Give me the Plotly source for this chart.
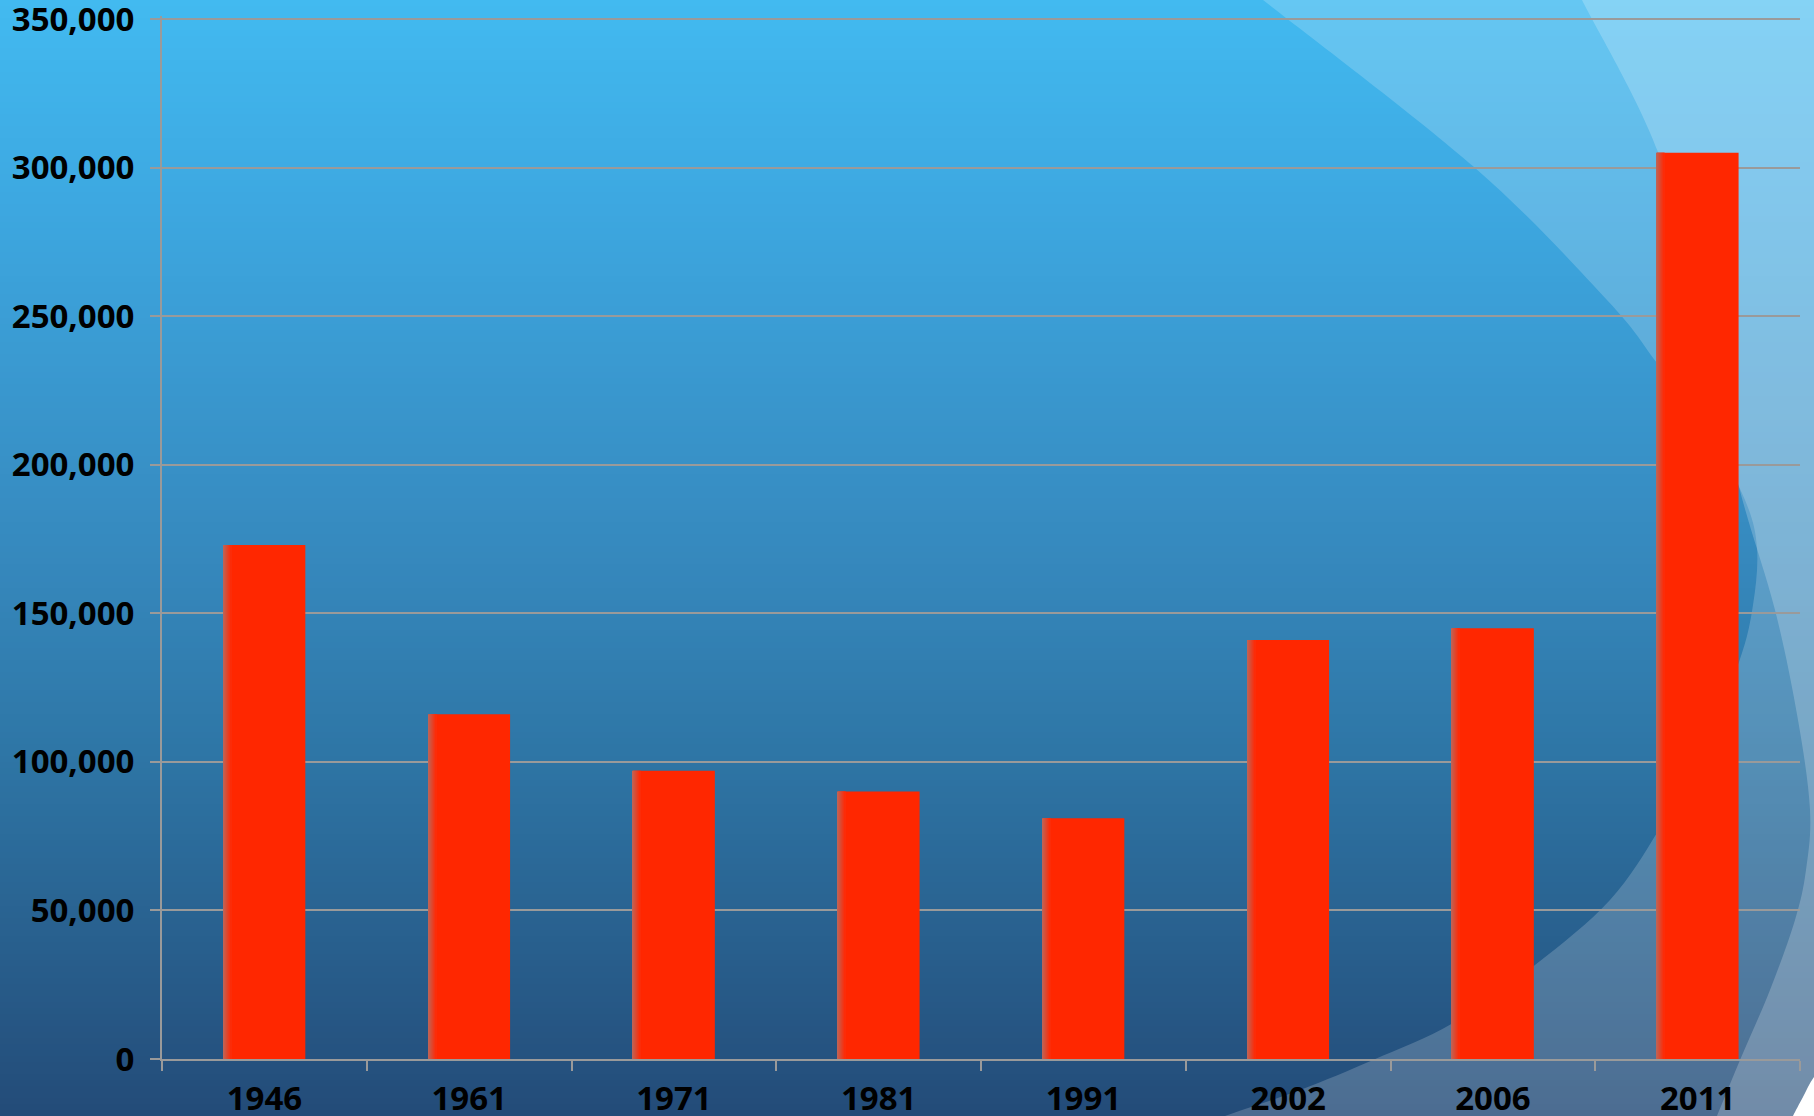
import plotly.graph_objects as go

# Survey years and counts
years = ["1946", "1961", "1971", "1981", "1991", "2002", "2006", "2011"]
counts = [173000, 116000, 97000, 90000, 81000, 141000, 145000, 305000]

# Y axis ticks and range
y_ticks = [0, 50000, 100000, 150000, 200000, 250000, 300000, 350000]
y_max = 351000

FIG_W, FIG_H = 1814, 1116
M_L, M_R, M_T, M_B = 162, 14, 16, 57
PLOT_W = FIG_W - M_L - M_R
PLOT_H = FIG_H - M_T - M_B
BAR_W = 0.4
BAR_RED = "#FF2700"


def pxx(X):
    return (X - M_L) / PLOT_W


def pxy(Y):
    return (FIG_H - M_B - Y) / PLOT_H


def lerp(c1, c2, t):
    return tuple(round(a + (b - a) * t) for a, b in zip(c1, c2))


# Slide backdrop: vertical blue gradient built from thin bands
grad_stops = [
    (0, (66, 186, 240)),
    (200, (61, 168, 225)),
    (550, (54, 137, 190)),
    (750, (46, 118, 166)),
    (1059, (37, 82, 127)),
    (1116, (35, 75, 120)),
]


def grad_color(Y):
    for (y0, c0), (y1, c1) in zip(grad_stops, grad_stops[1:]):
        if y0 <= Y <= y1:
            return lerp(c0, c1, (Y - y0) / (y1 - y0))
    return grad_stops[-1][1]


shapes = []
band = 6
for Y in range(0, FIG_H, band):
    c = grad_color(Y + band / 2)
    shapes.append(dict(
        type="rect", xref="paper", yref="paper", layer="below",
        x0=pxx(-5), x1=pxx(FIG_W + 5), y0=pxy(Y + band + 1), y1=pxy(Y),
        line=dict(width=0), fillcolor=f"rgb{c}",
    ))


def smooth_path(points, closing):
    """Catmull-Rom curve through points (pixel coords) turned into an SVG path in paper units."""
    P = [(pxx(x), pxy(y)) for x, y in points]
    d = f"M{P[0][0]:.5f},{P[0][1]:.5f}"
    for i in range(len(P) - 1):
        p0 = P[i - 1] if i > 0 else P[i]
        p1, p2 = P[i], P[i + 1]
        p3 = P[i + 2] if i + 2 < len(P) else P[i + 1]
        c1 = (p1[0] + (p2[0] - p0[0]) / 6, p1[1] + (p2[1] - p0[1]) / 6)
        c2 = (p2[0] - (p3[0] - p1[0]) / 6, p2[1] - (p3[1] - p1[1]) / 6)
        d += f" C{c1[0]:.5f},{c1[1]:.5f} {c2[0]:.5f},{c2[1]:.5f} {p2[0]:.5f},{p2[1]:.5f}"
    for x, y in closing:
        d += f" L{pxx(x):.5f},{pxy(y):.5f}"
    return d + " Z"


# Large sweeping arcs on the right of the slide
arc_a = [(1250, -10), (1263, 0), (1474, 167), (1607, 300), (1657, 363), (1710, 435),
         (1745, 500), (1757, 548), (1753, 605), (1739, 662), (1700, 755), (1660, 828),
         (1610, 900), (1535, 965), (1453, 1023), (1373, 1060), (1300, 1090), (1225, 1116),
         (1200, 1126)]
arc_b = [(1578, -10), (1582, 0), (1658, 152), (1700, 320), (1739, 487), (1775, 610),
         (1798, 720), (1810, 810), (1806, 870), (1795, 920), (1770, 990), (1740, 1060),
         (1717, 1116), (1712, 1126)]
corner = [(1830, 1062), (1814, 1077), (1803, 1097), (1793, 1116), (1789, 1126)]

shapes.append(dict(type="path", xref="paper", yref="paper", layer="below",
                   path=smooth_path(arc_a, [(1830, 1130), (1830, -10)]),
                   fillcolor="rgba(255,255,255,0.19)", line=dict(width=0)))
shapes.append(dict(type="path", xref="paper", yref="paper", layer="below",
                   path=smooth_path(arc_b, [(1830, 1130), (1830, -10)]),
                   fillcolor="rgba(255,255,255,0.21)", line=dict(width=0)))
shapes.append(dict(type="path", xref="paper", yref="paper", layer="below",
                   path=smooth_path(corner, [(1830, 1130)]),
                   fillcolor="white", line=dict(width=0)))

fig = go.Figure()

# Main bars
fig.add_trace(go.Bar(
    x=years, y=counts, width=BAR_W, marker=dict(color=BAR_RED, line=dict(width=0)),
    showlegend=False, hoverinfo="x+y",
))

# Soft shaded left edge on each bar
edge_from, edge_to = (192, 98, 84), (252, 44, 8)
strips = 8
strip_w = 1 / (PLOT_W / len(years))
for k in range(strips):
    c = lerp(edge_from, edge_to, k / (strips - 1))
    fig.add_trace(go.Bar(
        x=years, y=counts, width=strip_w * 1.1, offset=-BAR_W / 2 + k * strip_w,
        marker=dict(color=f"rgb{c}", line=dict(width=0)),
        showlegend=False, hoverinfo="skip",
    ))

tick_font = dict(family="Open Sans", size=33, color="black", weight=700)
grid_col = "#9A9A9A"

fig.update_layout(
    width=FIG_W, height=FIG_H,
    margin=dict(l=M_L, r=M_R, t=M_T, b=M_B, autoexpand=False),
    paper_bgcolor="white", plot_bgcolor="rgba(0,0,0,0)",
    barmode="overlay", shapes=shapes, showlegend=False,
    xaxis=dict(
        type="category", categoryorder="array", categoryarray=years,
        showline=True, linecolor=grid_col, linewidth=2,
        ticks="outside", ticklen=10, tickwidth=2, tickcolor=grid_col,
        tickson="boundaries", showgrid=False,
        tickfont=tick_font, ticklabelstandoff=9, ticklabeloverflow="allow",
    ),
    yaxis=dict(
        range=[0, y_max], tickvals=y_ticks, tickformat=",d",
        showline=True, linecolor=grid_col, linewidth=2,
        ticks="outside", ticklen=10, tickwidth=2, tickcolor=grid_col,
        showgrid=True, gridcolor=grid_col, gridwidth=2, zeroline=False,
        tickfont=tick_font, ticklabelstandoff=9, ticklabeloverflow="allow",
    ),
)

fig.write_html("out.html")
